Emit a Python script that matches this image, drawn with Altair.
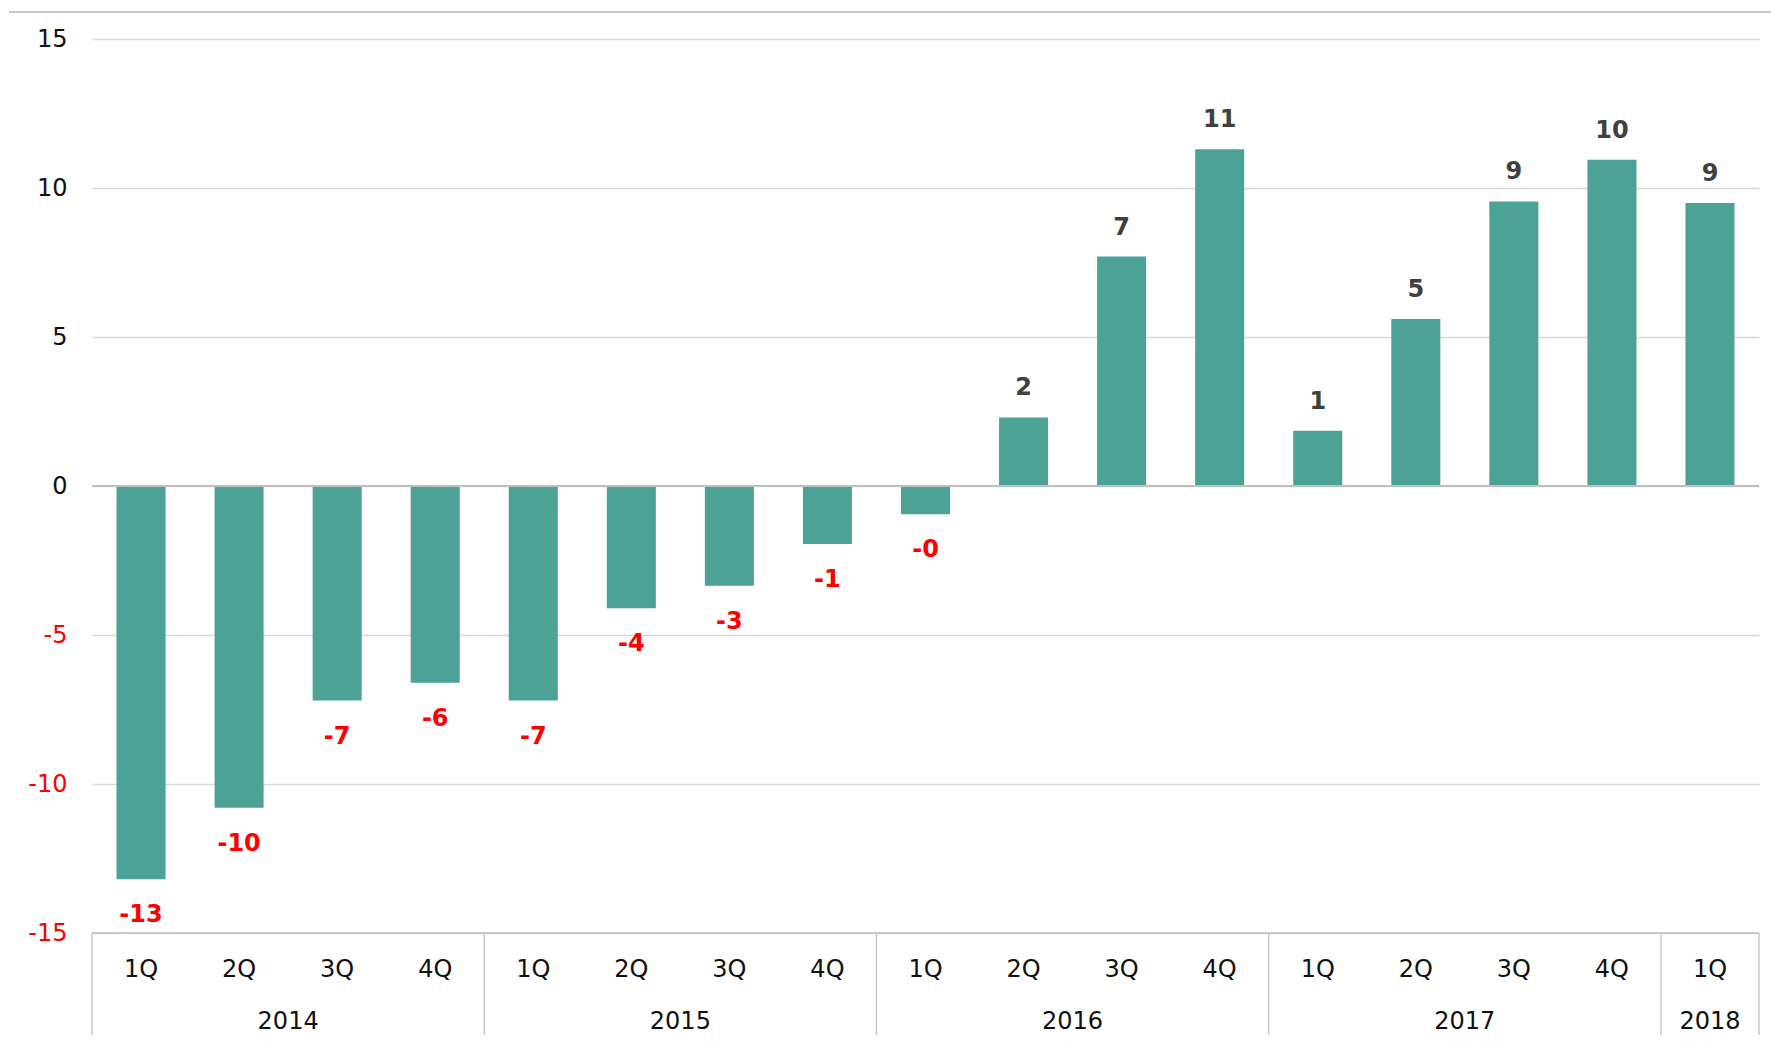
import altair as alt
import pandas as pd

# Quarterly series, 2014 1Q .. 2018 1Q
years = ["2014"] * 4 + ["2015"] * 4 + ["2016"] * 4 + ["2017"] * 4 + ["2018"]
quarters = ["1Q", "2Q", "3Q", "4Q"] * 4 + ["1Q"]
values = [-13.2, -10.8, -7.2, -6.6, -7.2, -4.1, -3.35, -1.95, -0.95,
          2.3, 7.7, 11.3, 1.85, 5.6, 9.55, 10.95, 9.5]
y_ticks = [-15, -10, -5, 0, 5, 10, 15]

W, H = 1667, 894
BAR = "#4CA294"
GRID = "#d9d9d9"
FRAME = "#c8c8c8"
FONT = "DejaVu Sans"

df = pd.DataFrame({"idx": list(range(len(values))), "year": years,
                   "quarter": quarters, "value": values})

# year groups for the two-level category axis
grp = df.groupby("year")["idx"].agg(["min", "max"]).reset_index()
grp["start"] = grp["min"] - 0.5
grp["end"] = grp["max"] + 0.5
grp["center"] = (grp["min"] + grp["max"]) / 2
bounds = pd.DataFrame({"b": sorted(set(grp["start"]).union(set(grp["end"])))})

xscale = alt.Scale(domain=[-0.5, len(values) - 0.5], nice=False, zero=False)
yscale = alt.Scale(domain=[-15, 15], nice=False)

base = alt.Chart(df).transform_calculate(
    x1="datum.idx - 0.25",
    x2="datum.idx + 0.25",
    label="(datum.value < 0 ? '-' : '') + floor(abs(datum.value))",
)

bars = base.mark_bar(color=BAR).encode(
    x=alt.X("x1:Q", scale=xscale, axis=None),
    x2="x2:Q",
    y=alt.Y("value:Q", scale=yscale,
            axis=alt.Axis(values=y_ticks, title=None, domain=False, ticks=False,
                          grid=True, gridColor=GRID, gridWidth=1.5,
                          labelFontSize=24, labelPadding=25,
                          labelExpr="datum.value + ''",
                          labelColor={"condition": {"test": "datum.value < 0", "value": "#ff0000"},
                                      "value": "#111111"})),
    y2=alt.datum(0),
)

zero = alt.Chart(df).mark_rule(color="#bfbfbf", strokeWidth=2).encode(
    y=alt.datum(0, scale=yscale)
)

pos_labels = base.transform_filter("datum.value >= 0").mark_text(
    fontSize=24, fontWeight="bold", color="#404040", baseline="middle", dy=-29
).encode(x=alt.X("idx:Q", scale=xscale), y=alt.Y("value:Q", scale=yscale), text="label:N")

neg_labels = base.transform_filter("datum.value < 0").mark_text(
    fontSize=24, fontWeight="bold", color="#ff0000", baseline="middle", dy=36
).encode(x=alt.X("idx:Q", scale=xscale), y=alt.Y("value:Q", scale=yscale), text="label:N")

# category axis: bottom frame line, group separators, quarter and year rows
bottom_line = alt.Chart(df).mark_rule(color=FRAME, strokeWidth=1.5).encode(
    x=alt.value(0), x2=alt.value(W), y=alt.value(H)
)
separators = alt.Chart(bounds).mark_rule(color=FRAME, strokeWidth=1.5).encode(
    x=alt.X("b:Q", scale=xscale), y=alt.value(H), y2=alt.value(H + 102)
)
quarter_text = alt.Chart(df).mark_text(fontSize=24, color="#111111", baseline="middle").encode(
    x=alt.X("idx:Q", scale=xscale), y=alt.value(H + 37), text="quarter:N"
)
year_text = alt.Chart(grp).mark_text(fontSize=24, color="#111111", baseline="middle").encode(
    x=alt.X("center:Q", scale=xscale), y=alt.value(H + 89), text="year:N"
)
top_frame = alt.Chart(df).mark_rule(color=FRAME, strokeWidth=1.5).encode(
    x=alt.value(-83), x2=alt.value(W + 12), y=alt.value(-27)
)

chart = alt.layer(
    bars, zero, pos_labels, neg_labels, bottom_line, separators,
    quarter_text, year_text, top_frame
).properties(
    width=W, height=H,
    autosize=alt.AutoSizeParams(type="none"),
    padding={"left": 92, "top": 39, "right": 12, "bottom": 108},
).configure(
    font=FONT,
).configure_view(
    stroke=None, clip=False
).configure_axis(
    labelFont=FONT
)

chart.save("out.html", embed_options={"renderer": "svg", "actions": False})
